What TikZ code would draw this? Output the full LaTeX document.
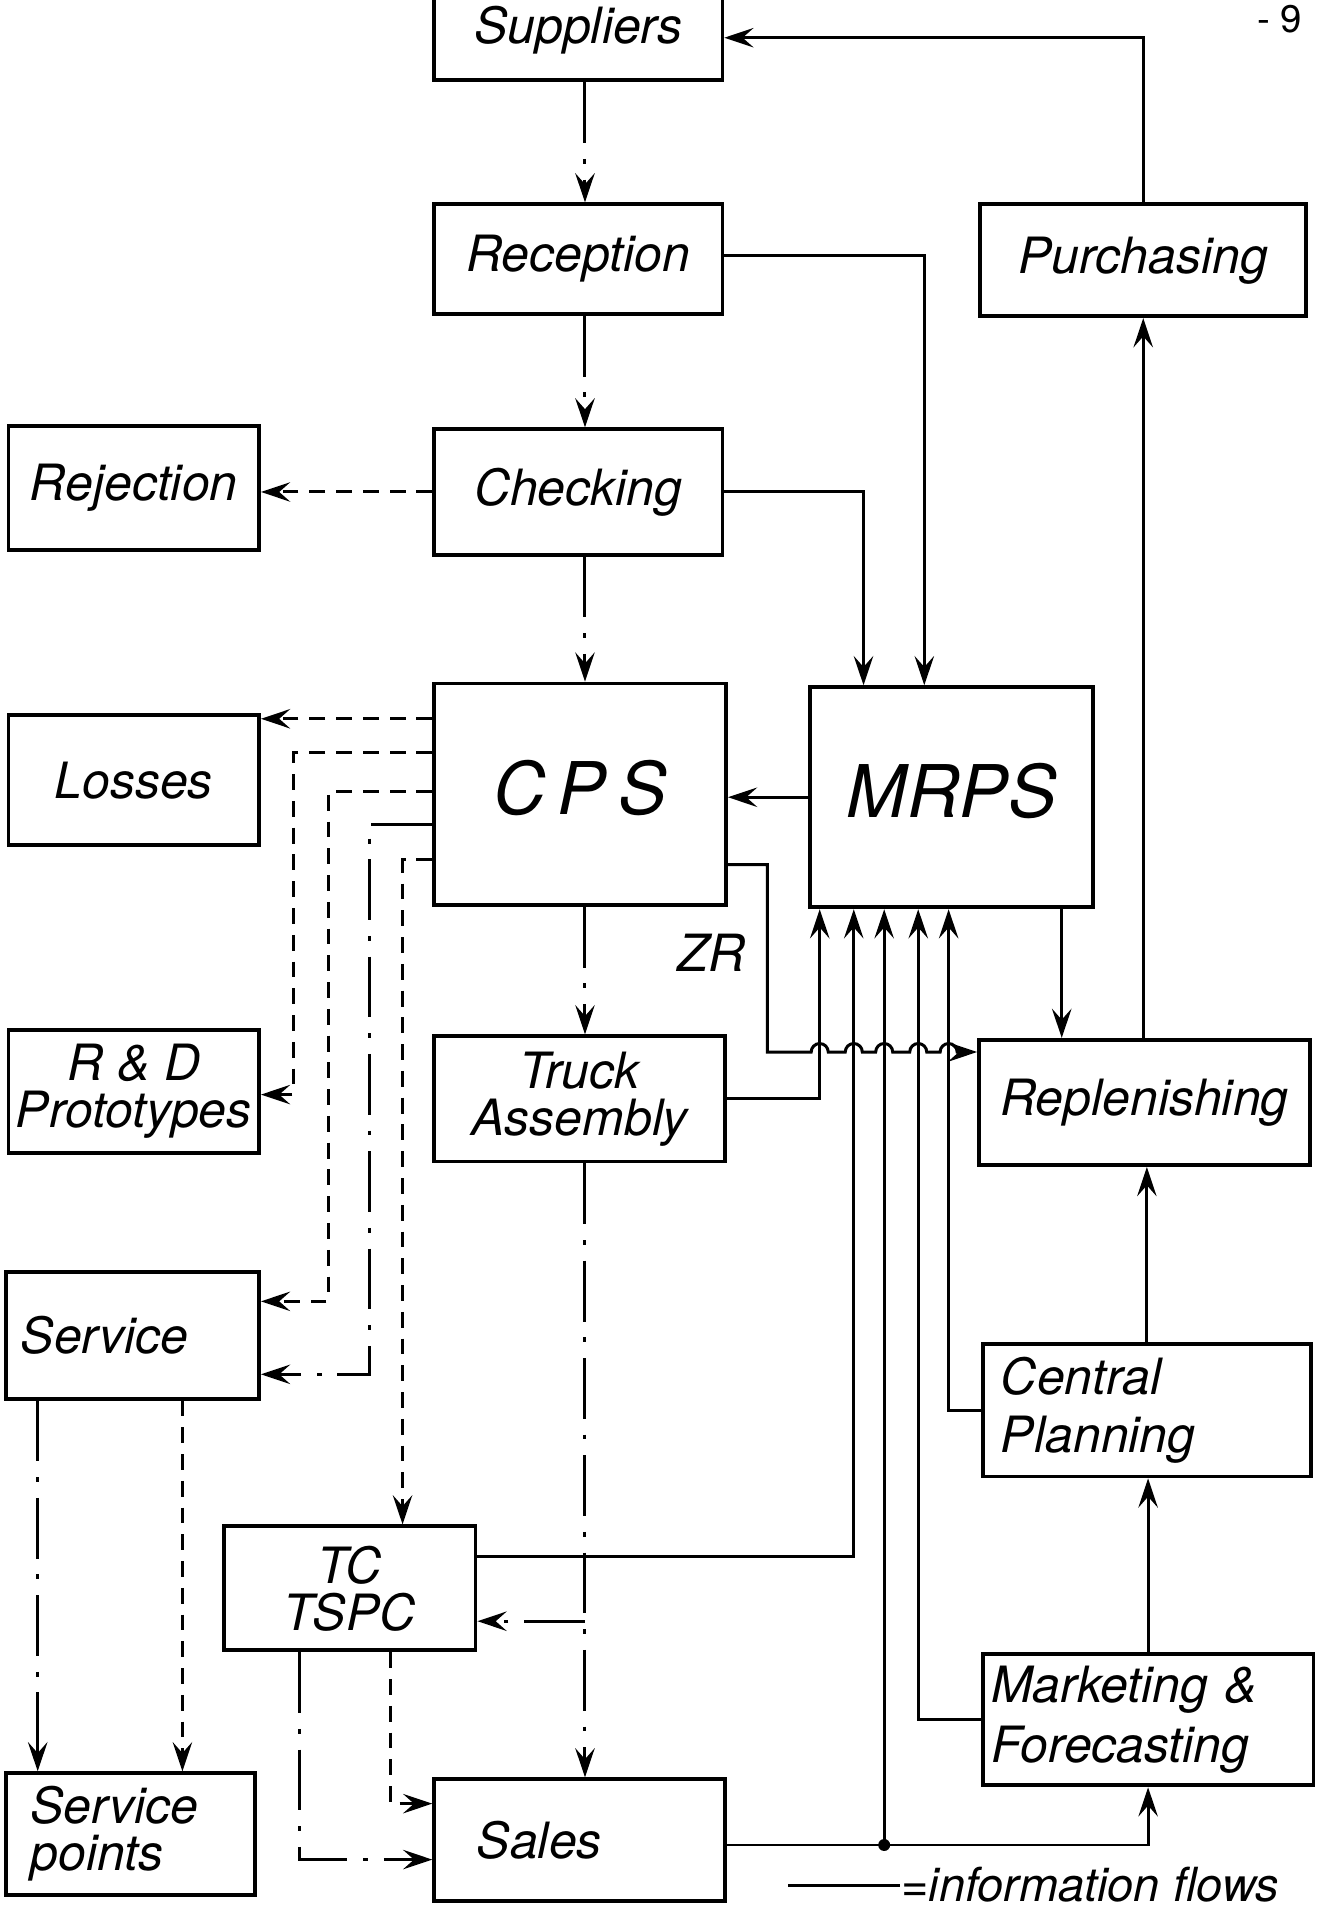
\documentclass[tikz,border=0pt]{standalone}
\usepackage{fontspec}
\setmainfont{TeX Gyre Heros}
\usetikzlibrary{arrows.meta}
\begin{document}
\begin{tikzpicture}[x=0.1mm,y=-0.1mm]
\tikzstyle{every node}+=[inner sep=0pt]
\tikzstyle{box}=[draw, black, line width=0.9pt, align=center, font=\fontsize{11.7}{11}\selectfont\itshape]
\tikzstyle{big}=[font=\fontsize{17}{18}\selectfont\itshape]
\tikzstyle{flow}=[black, line width=0.7pt, -{Stealth[length=2.4mm,width=1.6mm,inset=0.9mm]}]
\tikzstyle{goods}=[flow, dash pattern=on 5mm off 1.3mm on 0.4mm off 1.3mm]
\tikzstyle{waste}=[flow, dash pattern=on 1.3mm off 0.9mm]
\useasboundingbox (0,0) rectangle (1084,1568);
\node[box, minimum width=23.7mm, minimum height=8.2mm] (sup) at (475.5,25) {Suppliers};
\node[box, minimum width=23.7mm, minimum height=9mm] (rec) at (475.5,213) {Reception};
\node[box, minimum width=26.8mm, minimum height=9.2mm] (pur) at (940,214) {Purchasing};
\node[box, minimum width=23.7mm, minimum height=10.3mm] (chk) at (475.5,404.5) {Checking};
\node[box, minimum width=20.6mm, minimum height=10.2mm] (rej) at (110,401) {Rejection};
\node[box, big, minimum width=24mm, minimum height=18.2mm] (cps) at (477,653) {\raisebox{1.2mm}{C\,P\,S}};
\node[box, big, minimum width=23.3mm, minimum height=18.1mm] (mrps) at (782.5,655.5) {\raisebox{1.2mm}{MRPS}};
\node[box, minimum width=20.6mm, minimum height=10.7mm] (los) at (110,641.5) {Losses};
\node[box, minimum width=20.6mm, minimum height=10.1mm] (rnd) at (110,897.5) {R \& D\\Prototypes};
\node[box, minimum width=23.9mm, minimum height=10.3mm] (tru) at (476.5,903.5) {Truck\\Assembly};
\node[box, minimum width=27.2mm, minimum height=10.3mm] (rep) at (941,906.5) {Replenishing};
\node[box, minimum width=20.8mm, minimum height=10.4mm, text width=18.4mm, align=left] (ser) at (109,1098) {Service};
\node[box, minimum width=27mm, minimum height=10.9mm, text width=24mm, align=left] (cen) at (943,1159.5) {Central\\[2.6pt]Planning};
\node[box, minimum width=20.7mm, minimum height=10.2mm] (tc) at (287.5,1306) {TC\\TSPC};
\node[box, minimum width=27.2mm, minimum height=10.8mm, text width=25.8mm, align=left] (mar) at (944,1414) {Marketing \&\\[1.8pt]Forecasting};
\node[box, minimum width=20.5mm, minimum height=10mm, text width=16.5mm, align=left] (spt) at (107.5,1508) {Service\\points};
\node[box, minimum width=23.9mm, minimum height=10mm, text width=16.9mm, align=left] (sal) at (476.5,1513) {Sales};
\node[font=\fontsize{12}{14}\selectfont\itshape] (zr) at (585,783) {ZR};
\node[font=\fontsize{9}{10}\selectfont] (pg) at (1052,16) {- 9};
\coordinate (br) at (481,1333);
\coordinate (jn) at (727,1517);
\coordinate (lg1) at (648,1550);
\coordinate (lg2) at (740,1550);
\draw[goods] (sup.south -| 481,0) -- (rec.north -| 481,0);
\draw[goods] (rec.south -| 481,0) -- (chk.north -| 481,0);
\draw[goods] (chk.south -| 481,0) -- (cps.north -| 481,0);
\draw[goods] (cps.south -| 481,0) -- (tru.north -| 481,0);
\draw[goods] (tru.south -| 481,0) -- (sal.north -| 481,0);
\draw[goods] (br) -- (tc.east |- br);
\draw[waste] (chk.west) -- (rej.east |- chk.west);
\draw[waste] (cps.west |- 0,591) -- (los.east |- 0,591);
\draw[waste] (cps.west |- 0,619) -| (241,900) -- (rnd.east |- 0,900);
\draw[waste] (cps.west |- 0,651) -| (270,1070) -- (ser.east |- 0,1070);
\draw[goods] (cps.west |- 0,678) -| (304,1130) -- (ser.east |- 0,1130);
\draw[waste] (cps.west |- 0,707) -| (tc.north -| 331,0);
\draw[goods] (ser.south -| 31,0) -- (spt.north -| 31,0);
\draw[waste] (ser.south -| 150,0) -- (spt.north -| 150,0);
\draw[waste] (tc.south -| 321,0) |- (sal.west |- 0,1483);
\draw[goods] (tc.south -| 246,0) |- (sal.west |- 0,1529);
\draw[flow] (pur.north) |- (sup.east |- 0,31);
\draw[flow] (rec.east |- 0,210) -| (mrps.north -| 760,0);
\draw[flow] (chk.east) -| (mrps.north -| 710,0);
\draw[flow] (mrps.west) -- (cps.east |- mrps.west);
\draw[flow] (rep.north -| 940,0) -- (pur.south -| 940,0);
\draw[flow] (mrps.south -| 873,0) -- (rep.north -| 873,0);
\draw[flow] (cen.north) -- (cen.north |- rep.south);
\draw[flow] (mar.north) -- (mar.north |- cen.south);
\draw[flow] (tru.east) -| (mrps.south -| 674,0);
\draw[flow] (tc.east |- 0,1280) -| (mrps.south -| 702,0);
\draw[flow] (jn) -- (mrps.south -| jn);
\draw[flow] (mar.west) -| (mrps.south -| 755,0);
\draw[flow] (cen.west) -| (mrps.south -| 780,0);
\draw[flow] (sal.east |- jn) -| (mar.south);
\fill[black] (jn) circle (1.4pt);
\draw[flow] (cps.east |- 0,711) -| (631,865)
  \foreach \x in {674,702,727,755,780} { -- (\x-7,865) arc[start angle=180,end angle=0,radius=0.7mm] }
  -- (rep.west |- 0,865);
\draw[black, line width=0.7pt] (lg1) -- (lg2) node[anchor=west, font=\fontsize{11}{13}\selectfont\itshape] (lgt) {=information flows};
\end{tikzpicture}
\end{document}
